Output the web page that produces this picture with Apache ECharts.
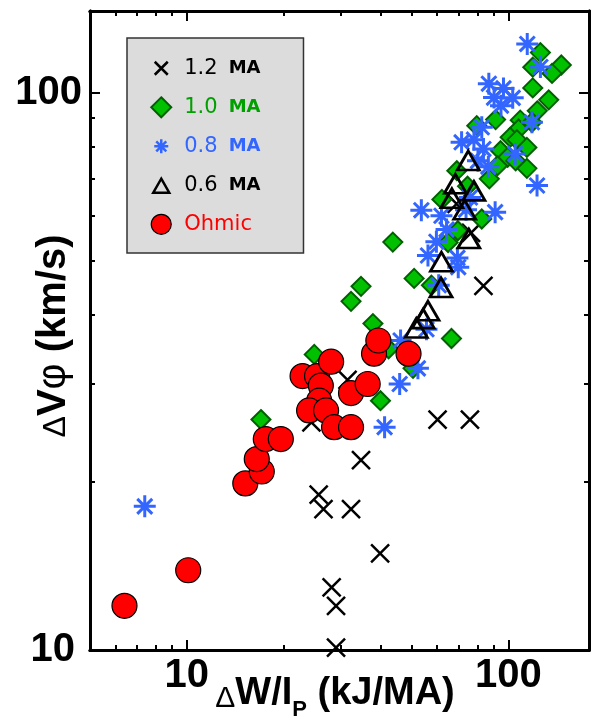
<!DOCTYPE html>
<html><head><meta charset="utf-8">
<script src="https://cdn.jsdelivr.net/npm/echarts@6/dist/echarts.min.js"></script>
<style>html,body{margin:0;padding:0;background:#fff}#c{width:591px;height:718px}</style>
</head><body><div id="c"></div>
<script>
// ---- data (x: dW/Ip in kJ/MA, y: dV_phi in km/s) ----
const xTicksMajor = [10, 100];
const xTicksMinor = [6, 7, 8, 9, 20, 30, 40, 50, 60, 70, 80, 90];
const yTicksMajor = [10, 100];
const yTicksMinor = [20, 30, 40, 50, 60, 70, 80, 90];
const seriesNames = ['1.2 MA', '1.0 MA', '0.8 MA', '0.6 MA', 'Ohmic'];

const ma12 = [[60.2,25.9],[75.9,25.9],[34.8,21.9],[25.7,19.0],[26.6,17.9],[32.4,17.9],[39.9,14.9],
  [28.2,12.95],[29.1,12.0],[29.1,10.1],[24.4,25.6],[31.6,30.5],[69.0,63.1],[76.5,56.0],[83.6,45.0]];
const ma10 = [[125.7,117.9],[146,112],[119,111],[136.6,108.2],[119,101.9],[133.4,97.0],[122.9,92.7],
  [108.8,89.2],[91.2,89.4],[79.7,87.2],[118.3,88.4],[107.5,86.0],[101.2,83.1],[106.2,82.3],[114.1,79.7],
  [94.5,78.6],[99.4,76.5],[105.3,75.4],[114.1,73.1],[92.5,73.9],[87.2,70.0],[69.1,72.4],[74.6,67.9],
  [62.1,64.3],[82.6,59.3],[69.6,56.5],[64.9,53.8],[43.7,53.9],[50.9,46.4],[57.6,45.1],[34.8,44.9],
  [32.4,42.2],[37.9,38.5],[66.5,36.2],[42.4,34.7],[24.9,33.9],[40.0,28.0],[17.0,25.9],[50.5,32.0]];
const ma08 = [[114.4,122.2],[125.7,111.1],[86.9,103.7],[96.5,101.7],[90.2,97.9],[103.1,97.8],[94.8,94.7],
  [118.3,88.4],[82.6,86.6],[71.5,81.4],[78.1,82.3],[83.6,79.2],[104.9,77.6],[86.6,73.6],[122.7,68.1],
  [75.9,64.8],[53.6,61.5],[61.9,60.1],[90.9,61.0],[64.2,56.8],[59.7,54.0],[56.2,51.0],[69.4,50.5],
  [69.8,48.6],[60.7,45.1],[73.8,61.6],[55.6,37.6],[52.3,32.0],[45.9,30.0],[41.2,25.1],[7.4,18.1],
  [46.2,35.9],[80.4,75.4]];
const ma06 = [[75.0,75.5],[68.4,68.6],[78.1,66.6],[66.7,64.6],[73.1,61.6],[75.3,54.7],[61.9,49.7],
  [61.7,44.7],[56.2,40.6],[54.3,39.3],[51.7,37.8]];
const ohmic = [[6.4,12.0],[10.1,13.9],[15.2,19.9],[17.1,20.9],[16.5,22.0],[17.6,23.9],[19.6,23.9],
  [22.9,31.0],[25.4,31.0],[26.1,29.8],[28.1,32.9],[25.8,28.0],[24.0,26.9],[27.1,26.9],[28.7,25.1],
  [32.4,25.1],[32.4,28.9],[36.5,30.0],[38.2,34.0],[39.4,35.9],[48.9,34.0]];

// ---- styles ----
const BLUE = '#3366ff', GREEN = '#00c000', GREEN_TXT = '#00a000', RED = '#ff0000';
const crossPath = 'path://M0,0L10,10M10,0L0,10';
const starPath = 'path://M5,0L5,10M0,5L10,5M1.6,1.6L8.4,8.4M8.4,1.6L1.6,8.4';
const LABEL_FONT = 'Liberation Sans';

function xAxisDef(pos, ticks, len, withLabels) {
  return {
    type: 'log', logBase: 10, min: 5, max: 178, position: pos,
    axisLine: { show: true, onZero: false, lineStyle: { color: '#000', width: 3 } },
    axisTick: { show: true, inside: true, length: len, customValues: ticks, lineStyle: { color: '#000', width: 2 } },
    axisLabel: withLabels ? {
      show: true, customValues: xTicksMajor, margin: 6, color: '#000',
      fontFamily: LABEL_FONT, fontWeight: 'bold', fontSize: 40,
      formatter: v => String(Math.round(v))
    } : { show: false },
    splitLine: { show: false }, minorTick: { show: false }, minorSplitLine: { show: false }
  };
}
function yAxisDef(pos, ticks, len, withLabels) {
  return {
    type: 'log', logBase: 10, min: 10, max: 140, position: pos,
    axisLine: { show: true, onZero: false, lineStyle: { color: '#000', width: 3 } },
    axisTick: { show: true, inside: true, length: len, customValues: ticks, lineStyle: { color: '#000', width: 2 } },
    axisLabel: withLabels ? {
      show: true, customValues: yTicksMajor, margin: 8, color: '#000',
      formatter: v => Math.round(v) === 10 ? '{a|10}' : '{b|' + Math.round(v) + '}',
      rich: {
        a: { fontFamily: LABEL_FONT, fontWeight: 'bold', fontSize: 40, color: '#000', padding: [0, 7, 0, 0] },
        b: { fontFamily: LABEL_FONT, fontWeight: 'bold', fontSize: 40, color: '#000' }
      }
    } : { show: false },
    splitLine: { show: false }, minorTick: { show: false }, minorSplitLine: { show: false }
  };
}

const chart = echarts.init(document.getElementById('c'), null, { renderer: 'canvas' });
chart.setOption({
  animation: false,
  backgroundColor: '#fff',
  grid: { left: 90, right: 2, top: 11, bottom: 68, containLabel: false },
  xAxis: [
    xAxisDef('bottom', xTicksMajor, 10, true),
    xAxisDef('bottom', xTicksMinor, 5, false),
    xAxisDef('top', xTicksMajor, 10, false),
    xAxisDef('top', xTicksMinor, 5, false)
  ],
  yAxis: [
    yAxisDef('left', yTicksMajor, 10, true),
    yAxisDef('left', yTicksMinor, 5, false),
    yAxisDef('right', yTicksMajor, 10, false),
    yAxisDef('right', yTicksMinor, 5, false)
  ],
  legend: {
    orient: 'vertical', left: 127, top: 38,
    backgroundColor: '#dcdcdc', borderColor: '#333', borderWidth: 1.5, borderRadius: 0,
    padding: [19, 43, 18, 23], itemGap: 16.8, itemWidth: 20, itemHeight: 20,
    selectedMode: false,
    formatter: name => name === 'Ohmic' ? '{o|Ohmic}' : '{n|' + name.split(' ')[0] + '}{u|MA}',
    textStyle: {
      rich: {
        n: { fontFamily: 'DejaVu Sans', fontSize: 21, lineHeight: 20, padding: [0, 11, 0, 8] },
        u: { fontFamily: 'DejaVu Sans', fontWeight: 'bold', fontSize: 18, lineHeight: 20 },
        o: { fontFamily: 'DejaVu Sans', fontSize: 21, lineHeight: 20, padding: [0, 0, 0, 8] }
      }
    },
    data: [
      { name: '1.2 MA', icon: 'path://M0,0M20,20M3.5,3.5L16.5,16.5M16.5,3.5L3.5,16.5',
        itemStyle: { color: 'transparent', borderColor: '#000', borderWidth: 2.5 }, textStyle: { color: '#000' } },
      { name: '1.0 MA', icon: 'diamond',
        itemStyle: { color: GREEN, borderColor: '#006000', borderWidth: 2 }, textStyle: { color: GREEN_TXT } },
      { name: '0.8 MA', icon: 'path://M0,0M20,20M10,3L10,17M3,10L17,10M5,5L15,15M15,5L5,15',
        itemStyle: { color: 'transparent', borderColor: BLUE, borderWidth: 2.5 }, textStyle: { color: BLUE } },
      { name: '0.6 MA', icon: 'path://M0,0M20,20M10,3L18,17L2,17Z',
        itemStyle: { color: 'transparent', borderColor: '#000', borderWidth: 2.5 }, textStyle: { color: '#000' } },
      { name: 'Ohmic', icon: 'circle',
        itemStyle: { color: RED, borderColor: '#000', borderWidth: 1.2 }, textStyle: { color: RED } }
    ]
  },
  series: [
    { name: seriesNames[0], type: 'scatter', data: ma12, symbol: crossPath, symbolSize: 18,
      itemStyle: { color: 'transparent', borderColor: '#000', borderWidth: 2.5, opacity: 1 } },
    { name: seriesNames[1], type: 'scatter', data: ma10, symbol: 'diamond', symbolSize: [19, 19],
      itemStyle: { color: GREEN, borderColor: '#006000', borderWidth: 2, opacity: 1 } },
    { name: seriesNames[2], type: 'scatter', data: ma08, symbol: starPath, symbolSize: 22,
      itemStyle: { color: 'transparent', borderColor: BLUE, borderWidth: 3, opacity: 1 } },
    { name: seriesNames[3], type: 'scatter', data: ma06, symbol: 'triangle', symbolSize: [22, 19],
      itemStyle: { color: 'transparent', borderColor: '#000', borderWidth: 2.8, opacity: 1 } },
    { name: seriesNames[4], type: 'scatter', data: ohmic, symbol: 'circle', symbolSize: 25,
      itemStyle: { color: RED, borderColor: '#000', borderWidth: 1.2, opacity: 1 } }
  ],
  graphic: [
    { type: 'text', x: 54, y: 336, rotation: Math.PI / 2, z: 100,
      style: {
        text: '{d|\u0394}{v|V}{p|\u03c6}{t| (km/s)}', align: 'center', verticalAlign: 'middle', fill: '#000',
        rich: {
          d: { fontFamily: LABEL_FONT, fontSize: 32, fill: '#000', padding: [5, 0, 0, 0], lineHeight: 32 },
          v: { fontFamily: LABEL_FONT, fontWeight: 'bold', fontSize: 40, fill: '#000', lineHeight: 40 },
          p: { fontFamily: LABEL_FONT, fontSize: 40, fill: '#000', lineHeight: 40 },
          t: { fontFamily: LABEL_FONT, fontWeight: 'bold', fontSize: 40, fill: '#000', lineHeight: 40 }
        }
      } },
    { type: 'text', x: 335, y: 695, z: 100,
      style: {
        text: '{d|\u0394}{t|W/I}{s|P}{t| (kJ/MA)}', align: 'center', verticalAlign: 'middle', fill: '#000',
        rich: {
          d: { fontFamily: LABEL_FONT, fontSize: 30, fill: '#000', lineHeight: 30, padding: [9, 0, 0, 0], verticalAlign: 'top' },
          t: { fontFamily: LABEL_FONT, fontWeight: 'bold', fontSize: 38, fill: '#000', lineHeight: 40, verticalAlign: 'top' },
          s: { fontFamily: LABEL_FONT, fontWeight: 'bold', fontSize: 22, fill: '#000', lineHeight: 22, padding: [24, 0, 0, 0], verticalAlign: 'top' }
        }
      } }
  ]
});
</script>
</body></html>
